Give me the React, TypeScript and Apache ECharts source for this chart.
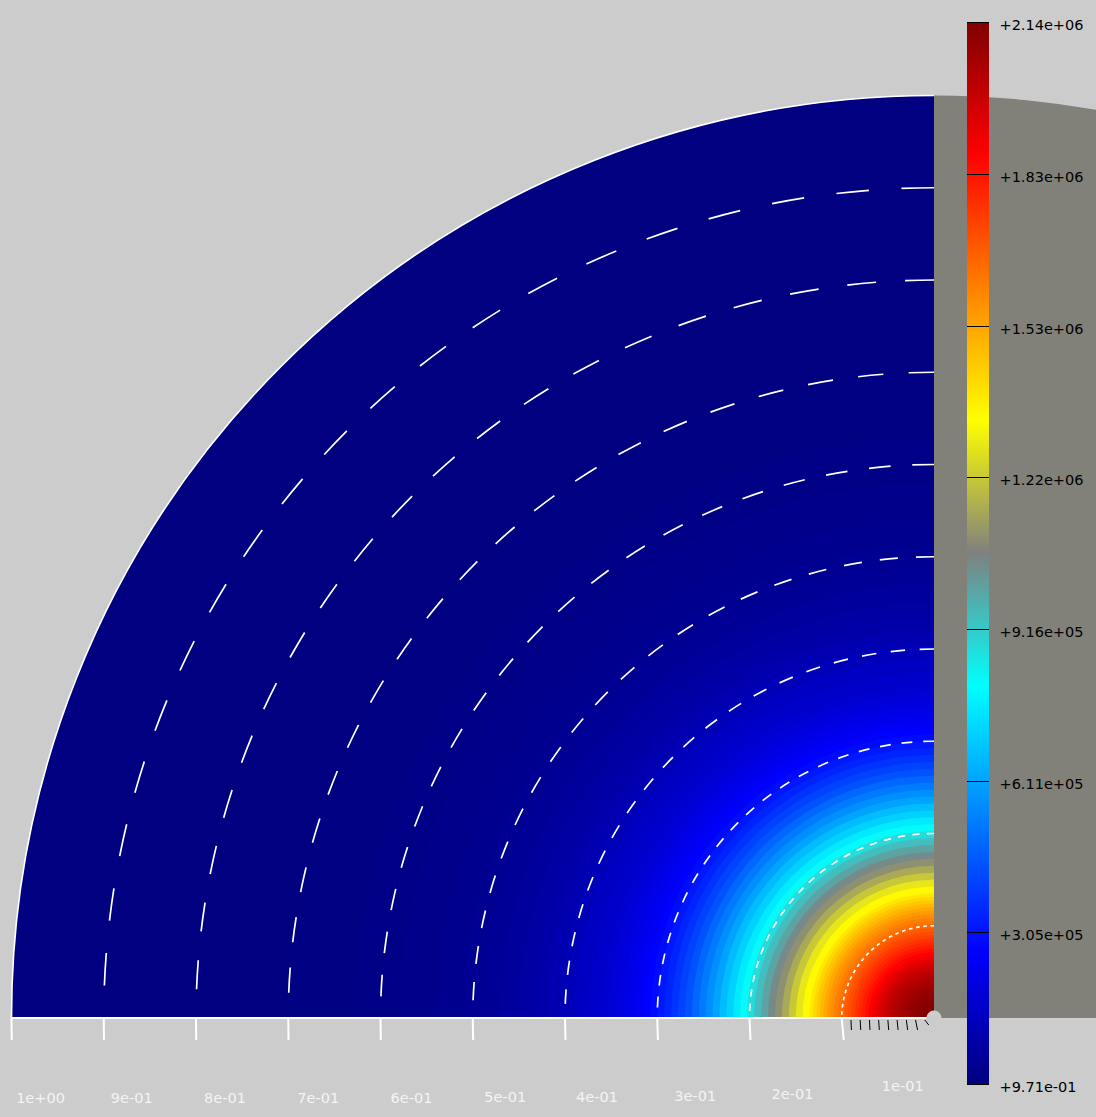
import React, { useEffect, useRef } from "react";
import * as echarts from "echarts";

// radial profile of the field: outer radius of each band and its value
const ringRadii = [
  0.00375, 0.0075, 0.01125, 0.015, 0.01875, 0.0225, 0.02625, 0.03, 0.03375, 0.0375, 0.04125, 0.045, 0.04875, 0.0525,
  0.05625, 0.06, 0.06375, 0.0675, 0.07125, 0.075, 0.07875, 0.0825, 0.08625, 0.09, 0.09375, 0.0975, 0.10125, 0.105,
  0.10875, 0.1125, 0.11625, 0.12, 0.12375, 0.1275, 0.13125, 0.135, 0.1425, 0.15, 0.1575, 0.165, 0.1725, 0.18, 0.1875,
  0.195, 0.2025, 0.21, 0.2175, 0.225, 0.2325, 0.24, 0.2475, 0.255, 0.2625, 0.27, 0.2775, 0.285, 0.2925, 0.3, 0.3075,
  0.315, 0.3225, 0.33, 0.3375, 0.345, 0.3525, 0.36, 0.375, 0.39, 0.405, 0.42, 0.435, 0.45, 0.47, 0.49, 0.51, 0.54,
  0.58, 0.63, 0.7, 1.0,
];
const ringValues = [
  2140000, 2138000, 2134000, 2129000, 2122000, 2114000, 2105000, 2094000, 2081000, 2067000, 2053000, 2037000, 2019000,
  2000000, 1980000, 1955000, 1928000, 1900000, 1873000, 1846000, 1819000, 1792000, 1766000, 1739000, 1712000, 1686000,
  1659000, 1632000, 1605000, 1578000, 1552000, 1520000, 1487000, 1455000, 1423000, 1385000, 1348000, 1284000, 1220000,
  1156000, 1102000, 1049000, 995000, 942000, 877000, 813000, 760000, 706000, 663000, 610000, 567000, 524000, 482000,
  439000, 407000, 375000, 342000, 315000, 289000, 268000, 246000, 229000, 214000, 199000, 184000, 171000, 158000,
  139000, 118000, 101000, 86000, 73000, 62000, 49000, 38000, 30000, 21000, 13000, 6000, 0.971,
];
const contourRadii = [0.1, 0.2, 0.3, 0.4, 0.5, 0.6, 0.7, 0.8, 0.9];
const majorTicks = [1.0, 0.9, 0.8, 0.7, 0.6, 0.5, 0.4, 0.3, 0.2, 0.1];
const minorTicks = [0.09, 0.08, 0.07, 0.06, 0.05, 0.04, 0.03, 0.02, 0.01];
const tickLabels = ["1e+00", "9e-01", "8e-01", "7e-01", "6e-01", "5e-01", "4e-01", "3e-01", "2e-01", "1e-01"];
const colorbarValues = [0.971, 305700, 611400, 917000, 1223000, 1528000, 1834000, 2140000];
const colorbarLabels = ["+9.71e-01", "+3.05e+05", "+6.11e+05", "+9.16e+05", "+1.22e+06", "+1.53e+06", "+1.83e+06", "+2.14e+06"];
const rampColors = ["#000080", "#0000ff", "#0080ff", "#00ffff", "#808080", "#ffff00", "#ff8000", "#ff0000", "#800000"];

const FONT = "DejaVu Sans";
const BG = "#cccccc";
const GRAY = "#81817a";
const LABEL_DX = [29, 28, 29, 30, 31, 32.5, 32, 38, 43, 61];
const LABEL_Y = [1098, 1098, 1098, 1098, 1098, 1097, 1097, 1096, 1094, 1086];

function geom(api: any, r: number) {
  const c = api.coord([0, 0]);
  const e = api.coord([r, 0]);
  return { cx: c[0], cy: c[1], ex: e[0], radius: Math.abs(c[0] - e[0]) };
}

export default function App() {
  const ref = useRef<HTMLDivElement>(null);
  useEffect(() => {
    document.body.style.margin = "0";
    const chart = echarts.init(ref.current!, null, { renderer: "svg" });
    const rings = ringRadii.map((r, i) => [r, 0, ringValues[i]]).reverse();
    chart.setOption({
      animation: false,
      backgroundColor: BG,
      tooltip: { show: false },
      grid: [
        { left: 11.5, top: 96, width: 922.5, height: 922 },
        { left: 967, top: 22, width: 22, height: 1062 },
      ],
      xAxis: [
        {
          gridIndex: 0, type: "value", min: 0, max: 1, inverse: true, z: 10,
          axisLine: { show: true, onZero: false, lineStyle: { color: "#ffffff", width: 2 } },
          axisTick: { show: false }, axisLabel: { show: false }, splitLine: { show: false },
        },
        { gridIndex: 1, type: "value", show: false, min: 0, max: 1 },
      ],
      yAxis: [
        { gridIndex: 0, type: "value", show: false, min: 0, max: 1 },
        { gridIndex: 1, type: "value", show: false, min: colorbarValues[0], max: colorbarValues[7] },
      ],
      visualMap: {
        type: "continuous", seriesIndex: 1, dimension: 2, show: false,
        min: colorbarValues[0], max: colorbarValues[7],
        inRange: { color: rampColors },
      },
      series: [
        {
          // gray region on the right of the axis
          type: "custom", xAxisIndex: 0, yAxisIndex: 0, clip: false, silent: true, z: 1,
          data: [[1, 0]], encode: { x: 0, y: 1 },
          renderItem: (_p: any, api: any) => {
            const g = geom(api, api.value(0));
            return {
              type: "sector",
              shape: { cx: g.cx, cy: g.cy, r: g.radius, r0: 0, startAngle: Math.PI * 1.5, endAngle: Math.PI * 2 },
              style: { fill: GRAY },
            };
          },
        },
        {
          // field bands, painted from the outside in
          type: "custom", xAxisIndex: 0, yAxisIndex: 0, clip: false, silent: true, z: 2,
          data: rings, encode: { x: 0, y: 1 },
          renderItem: (_p: any, api: any) => {
            const g = geom(api, api.value(0));
            return {
              type: "sector",
              shape: { cx: g.cx, cy: g.cy, r: g.radius, r0: 0, startAngle: Math.PI, endAngle: Math.PI * 1.5 },
              style: { fill: api.visual("color") },
            };
          },
        },
        {
          // dashed contours
          type: "custom", xAxisIndex: 0, yAxisIndex: 0, clip: false, silent: true, z: 3,
          data: contourRadii.map((r) => [r, 0]), encode: { x: 0, y: 1 },
          renderItem: (_p: any, api: any) => {
            const g = geom(api, api.value(0));
            const d = (g.radius * Math.PI) / 80;
            return {
              type: "arc",
              shape: { cx: g.cx, cy: g.cy, r: g.radius, startAngle: -Math.PI / 2, endAngle: -Math.PI, clockwise: false },
              style: { stroke: "#ffffff", fill: "none", lineWidth: 1.7, lineDash: [d, d] },
            };
          },
        },
        {
          // outer boundary
          type: "custom", xAxisIndex: 0, yAxisIndex: 0, clip: false, silent: true, z: 3,
          data: [[1, 0]], encode: { x: 0, y: 1 },
          renderItem: (_p: any, api: any) => {
            const g = geom(api, api.value(0));
            return {
              type: "arc",
              shape: { cx: g.cx, cy: g.cy, r: g.radius, startAngle: -Math.PI / 2, endAngle: -Math.PI, clockwise: false },
              style: { stroke: "#ffffff", fill: "none", lineWidth: 1.6 },
            };
          },
        },
        {
          // major ticks
          type: "custom", xAxisIndex: 0, yAxisIndex: 0, clip: false, silent: true, z: 4,
          data: majorTicks.map((r) => [r, 0]), encode: { x: 0, y: 1 },
          renderItem: (_p: any, api: any) => {
            const r = api.value(0);
            const g = geom(api, r);
            return {
              type: "line",
              shape: { x1: g.ex, y1: g.cy + 1, x2: g.ex + 0.2 / r, y2: g.cy + 22 },
              style: { stroke: "#ffffff", lineWidth: 2 },
            };
          },
        },
        {
          // minor ticks
          type: "custom", xAxisIndex: 0, yAxisIndex: 0, clip: false, silent: true, z: 4,
          data: minorTicks.map((r) => [r, 0]), encode: { x: 0, y: 1 },
          renderItem: (_p: any, api: any) => {
            const r = api.value(0);
            const g = geom(api, r);
            return {
              type: "line",
              shape: { x1: g.ex, y1: g.cy + 2, x2: g.ex + 0.04 / r, y2: g.cy + (r < 0.015 ? 7 : 12) },
              style: { stroke: "#000000", lineWidth: 1 },
            };
          },
        },
        {
          // tick labels
          type: "custom", xAxisIndex: 0, yAxisIndex: 0, clip: false, silent: true, z: 4,
          data: majorTicks.map((r) => [r, 0]), encode: { x: 0, y: 1 },
          renderItem: (p: any, api: any) => {
            const g = geom(api, api.value(0));
            const i = p.dataIndex;
            return {
              type: "text",
              x: g.ex + LABEL_DX[i],
              y: LABEL_Y[i],
              style: { text: tickLabels[i], fill: "#f4f4f4", font: `14.5px "${FONT}"`, align: "center", verticalAlign: "middle" },
            };
          },
        },
        {
          // hub at the origin
          type: "custom", xAxisIndex: 0, yAxisIndex: 0, clip: false, silent: true, z: 12,
          data: [[0, 0]], encode: { x: 0, y: 1 },
          renderItem: (_p: any, api: any) => {
            const c = api.coord([0, 0]);
            return { type: "circle", shape: { cx: c[0], cy: c[1], r: 7.5 }, style: { fill: BG } };
          },
        },
        {
          // colour bar
          type: "custom", xAxisIndex: 1, yAxisIndex: 1, clip: false, silent: true, z: 5,
          data: [[0, colorbarValues[0], 1, colorbarValues[7]]], encode: { x: [0, 2], y: [1, 3] },
          renderItem: (_p: any, api: any) => {
            const a = api.coord([api.value(0), api.value(1)]);
            const b = api.coord([api.value(2), api.value(3)]);
            return {
              type: "rect",
              shape: { x: a[0], y: b[1], width: b[0] - a[0], height: a[1] - b[1] },
              style: {
                fill: new echarts.graphic.LinearGradient(
                  0, 1, 0, 0,
                  rampColors.map((color, i) => ({ offset: i / (rampColors.length - 1), color }))
                ),
              },
            };
          },
        },
        {
          // colour bar ticks and labels
          type: "custom", xAxisIndex: 1, yAxisIndex: 1, clip: false, silent: true, z: 6,
          data: colorbarValues.map((v) => [0, v]), encode: { x: 0, y: 1 },
          renderItem: (p: any, api: any) => {
            const a = api.coord([0, api.value(1)]);
            const b = api.coord([1, api.value(1)]);
            const y = Math.round(a[1]) + 0.5;
            return {
              type: "group",
              children: [
                { type: "line", shape: { x1: a[0], y1: y, x2: b[0], y2: y }, style: { stroke: "#000000", lineWidth: 1 } },
                {
                  type: "text", x: b[0] + 10.5, y: y + 2,
                  style: { text: colorbarLabels[p.dataIndex], fill: "#000000", font: `14.5px "${FONT}"`, align: "left", verticalAlign: "middle" },
                },
              ],
            };
          },
        },
      ],
    });
    return () => chart.dispose();
  }, []);
  return <div ref={ref} style={{ position: "absolute", left: 0, top: 0, width: 1096, height: 1117, overflow: "hidden" }} />;
}
